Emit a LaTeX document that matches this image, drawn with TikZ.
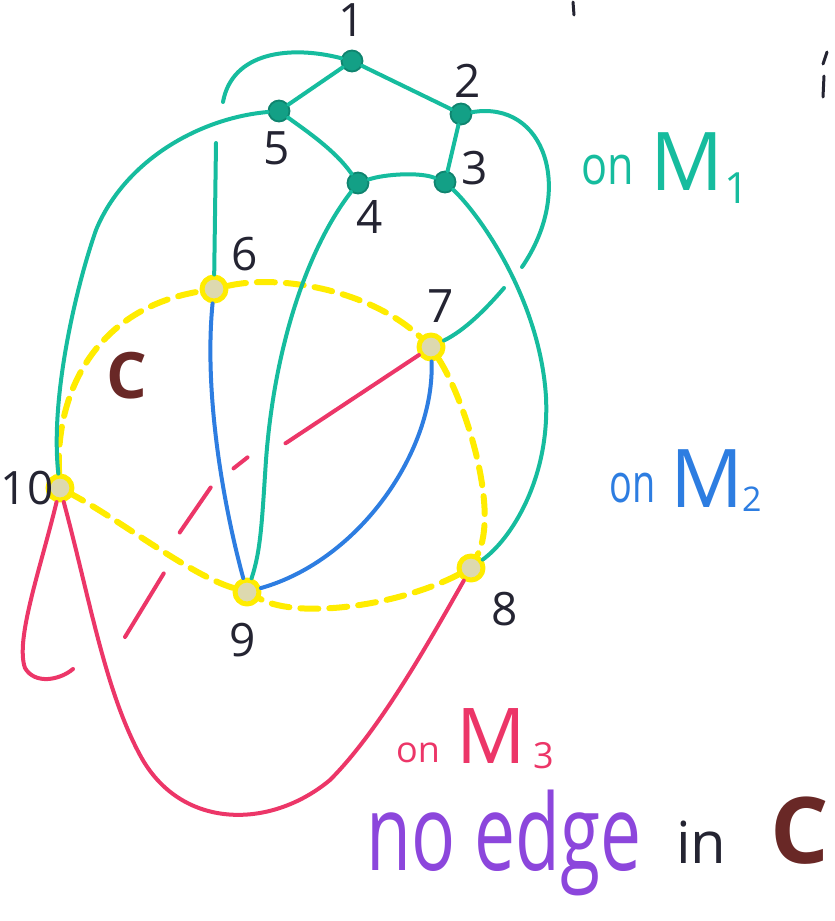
\documentclass[tikz,border=0pt]{standalone}
\usepackage{fontspec}
\setmainfont{Open Sans}
\usepackage{graphicx}
\usetikzlibrary{calc}
\definecolor{tealM}{RGB}{22,188,158}
\definecolor{blueM}{RGB}{45,125,225}
\definecolor{redM}{RGB}{236,54,104}
\definecolor{yelC}{RGB}{255,236,0}
\definecolor{purp}{RGB}{140,70,220}
\definecolor{brownC}{RGB}{105,40,38}
\definecolor{ink}{RGB}{36,36,50}
\tikzset{
  tv/.style={circle,draw=tealM!70!black,fill=tealM!85!black,line width=1.8pt,
             inner sep=0pt,minimum size=21pt},
  yv/.style={circle,draw=yelC,fill=yelC!40!gray!45,line width=5pt,
             inner sep=0pt,minimum size=24pt},
  num/.style={text=ink,font=\fontsize{46}{46}\selectfont},
  m1/.style={draw=tealM,line width=4pt},
  m2/.style={draw=blueM,line width=4pt},
  m3/.style={draw=redM,line width=4pt},
  cyc/.style={draw=yelC,line width=6pt,dash pattern=on 18pt off 11pt},
  txt/.style={anchor=base west,inner sep=0pt},
  every picture/.style={line cap=round,line join=round}}

\begin{document}
\begin{tikzpicture}[x=1pt,y=-1pt]
  \useasboundingbox (0,0) rectangle (835,921);
  % vertices
  \node[tv] (v1) at (352,61){}; \node[tv] (v2) at (461,114){};
  \node[tv] (v3) at (445,182){}; \node[tv] (v4) at (358,183){};
  \node[tv] (v5) at (279,111){};
  \node[yv] (v6) at (214,289){}; \node[yv] (v7) at (431,347){};
  \node[yv] (v8) at (471,568){}; \node[yv] (v9) at (247,592){};
  \node[yv] (v10) at (60,488){};
  % free ends
  \coordinate (f1) at (223,102); \coordinate (f2) at (522,267);
  \coordinate (f6) at (216,143); \coordinate (f7) at (504,288);
  \coordinate (f10) at (73,669); \coordinate (f7r) at (125,637);
  % labels
  \node[num] (l1) at (352,20){1}; \node[num] (l2) at (468,81){2};
  \node[num] (l3) at (475,168){3}; \node[num] (l4) at (370,217){4};
  \node[num] (l5) at (277,148){5}; \node[num] (l6) at (245,254){6};
  \node[num] (l7) at (441,306){7}; \node[num] (l8) at (505,609){8};
  \node[num] (l9) at (243,640){9}; \node[num] (l10) at (27,488){10};

  % the cycle C
  \draw[cyc] (v6) .. controls (280,274) and (370,290) .. (v7);
  \draw[cyc] (v7) .. controls (465,400) and (500,510) .. (v8);
  \draw[cyc] (v8) .. controls (400,605) and (300,620) .. (v9);
  \draw[cyc] (v9) .. controls (190,575) and (120,520) .. (v10);
  \draw[cyc] (v10) .. controls (55,400) and (90,310) .. (v6);

  % M1
  \draw[m1] (v1) -- (v2) -- (v3);
  \draw[m1] (v1) -- (v5);
  \draw[m1] (v5) .. controls (305,130) and (335,150) .. (v4);
  \draw[m1] (v4) .. controls (385,174) and (420,172) .. (v3);
  \draw[m1] (v1) .. controls (290,45) and (232,52) .. (f1);
  \draw[m1] (v2) .. controls (545,100) and (575,190) .. (f2);
  \draw[m1] (v5) .. controls (200,118) and (125,160) .. (96,230)
            .. controls (75,290) and (50,400) .. (v10);
  \draw[m1] (v6) -- (f6);
  \draw[m1] (v7) .. controls (465,330) and (485,310) .. (f7);
  \draw[m1] (v3) .. controls (480,215) and (540,300) .. (546,397)
            .. controls (550,480) and (510,540) .. (v8);
  \draw[m1] (v4) .. controls (310,245) and (275,340) .. (266,460)
            .. controls (262,520) and (261,550) .. (v9);

  % M2
  \draw[m2] (v6) .. controls (204,390) and (222,500) .. (v9);
  \draw[m2] (v7) .. controls (435,450) and (360,560) .. (v9);

  % M3
  \draw[m3] (v10) .. controls (40,570) and (15,640) .. (25,668)
            .. controls (35,685) and (60,680) .. (f10);
  \draw[m3] (v10) .. controls (90,600) and (105,690) .. (140,755)
            .. controls (180,830) and (270,830) .. (330,780)
            .. controls (380,730) and (430,640) .. (v8);
  \draw[m3,dash pattern=on 160pt off 40.5pt on 17.8pt off 29.8pt on 54.6pt off 44pt on 80pt]
        (v7) -- (286,443) -- (248,457) -- (234,468) -- (211,487)
        -- (180,532) -- (164,573) -- (f7r);

  % texts
  \node[txt,text=brownC,font=\bfseries\fontsize{64}{64}\selectfont] (cin) at (106,398){C};
  \node[txt,text=tealM,font=\fontsize{54}{54}\selectfont] (on1) at (581,184){\scalebox{0.8}[1]{on}};
  \node[txt,text=tealM,font=\fontsize{81}{81}\selectfont] (M1) at (650,190){M};
  \node[txt,text=tealM,font=\fontsize{43}{43}\selectfont] (s1) at (724,203){1};
  \node[txt,text=blueM,font=\fontsize{54}{54}\selectfont] (on2) at (609,502){\scalebox{0.7}[1]{on}};
  \node[txt,text=blueM,font=\fontsize{81}{81}\selectfont] (M2) at (670,507){M};
  \node[txt,text=blueM,font=\fontsize{34}{34}\selectfont] (s2) at (742,511){2};
  \node[txt,text=redM,font=\fontsize{36}{36}\selectfont] (on3) at (396,762){on};
  \node[txt,text=redM,font=\fontsize{77}{77}\selectfont] (M3) at (456,763){M};
  \node[txt,text=redM,font=\fontsize{36}{36}\selectfont] (s3) at (533,768){3};
  \node[txt,text=purp,font=\fontsize{106}{106}\selectfont] (noedge) at (366,870){\scalebox{0.69}[1]{no edge}};
  \node[txt,text=ink,font=\fontsize{58}{58}\selectfont] (inw) at (676,863){in};
  \node[txt,text=brownC,font=\bfseries\fontsize{92}{92}\selectfont] (cout) at (770,863){C};

  % stray pen marks at the edges
  \draw[ink,line width=3pt] (573,2) -- (574,15);
  \draw[ink,line width=3pt] (824,76) -- (823,97) (827,52) -- (823,64);
\end{tikzpicture}
\end{document}
